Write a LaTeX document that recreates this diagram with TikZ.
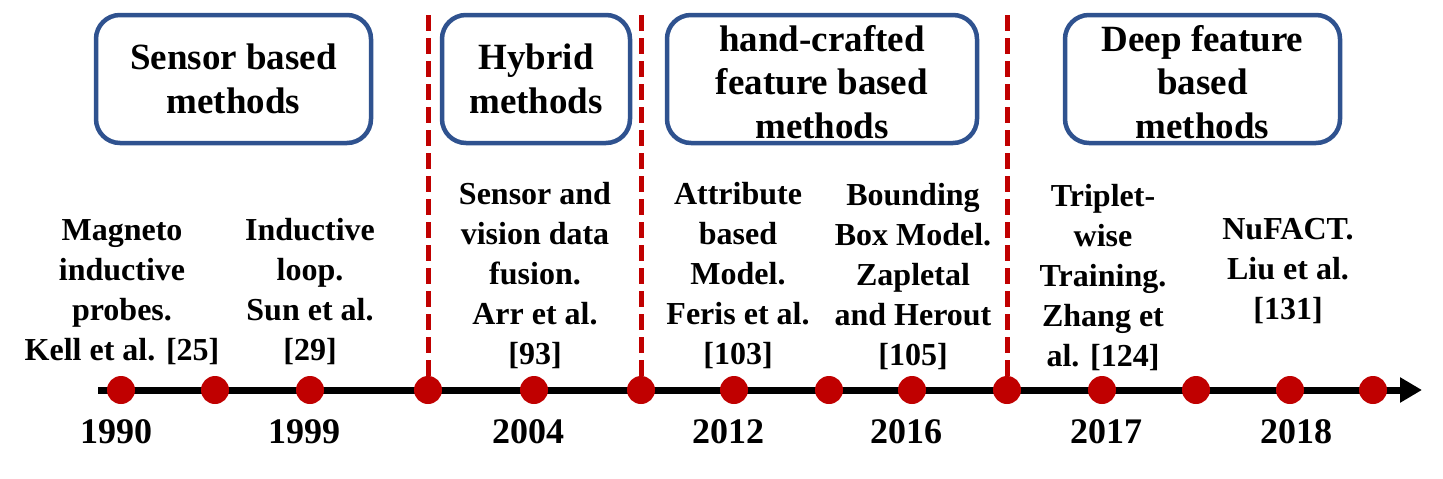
\documentclass[tikz,border=0pt]{standalone}
\usepackage{fontspec}
\setmainfont{Liberation Serif}
\usetikzlibrary{arrows.meta}
\definecolor{boxblue}{RGB}{47,82,143}
\definecolor{dotred}{RGB}{192,0,0}
\begin{document}
\begin{tikzpicture}[x=1pt,y=-1pt,
  catbox/.style={draw=boxblue, line width=4.5pt, rounded corners=24pt, inner sep=0pt, fill=white},
  cattext/.style={align=center, inner sep=0pt, font=\bfseries\fontsize{37}{43.5}\selectfont},
  evlabel/.style={align=center, inner sep=0pt, font=\bfseries\fontsize{32}{40}\selectfont},
  yearlabel/.style={inner sep=0pt, font=\bfseries\fontsize{36}{40}\selectfont},
  tdot/.style={circle, fill=dotred, minimum size=28pt, inner sep=0pt},
  sepline/.style={draw=dotred, line width=5pt, dash pattern=on 16pt off 7pt}]
\useasboundingbox (0,0) rectangle (1443,479);

% category boxes
\node[catbox, minimum width=275pt, minimum height=128pt] (box1) at (233.5,79) {};
\node[cattext] (t1) at (box1.center) {Sensor based\\methods};
\node[catbox, minimum width=188pt, minimum height=128pt] (box2) at (536,79) {};
\node[cattext] (t2) at (box2.center) {Hybrid\\methods};
\node[catbox, minimum width=310pt, minimum height=128pt] (box3) at (822,79) {};
\node[cattext] (t3) at (822,82) {hand-crafted\\feature based\\methods};
\node[catbox, minimum width=275pt, minimum height=128pt] (box4) at (1202.5,79) {};
\node[cattext] (t4) at (1202.5,82) {Deep feature\\based\\methods};

% timeline
\coordinate (tstart) at (98,390);
\coordinate (tend) at (1422,390);
\draw[line width=7pt, -{Triangle[length=22pt,width=24pt]}] (tstart) -- (tend);

% dots
\foreach \i/\x in {1/121,2/215,3/310,4/428,5/534,6/641,7/734,8/829,9/912,10/1007,11/1102,12/1196,13/1290,14/1373}
  \node[tdot] (d\i) at (\x,390) {};

% separators
\coordinate (s1) at (428,15);
\coordinate (s2) at (641,15);
\coordinate (s3) at (1007,15);
\draw[sepline] (s1) -- (d4.center);
\draw[sepline] (s2) -- (d6.center);
\draw[sepline] (s3) -- (d10.center);

% event labels
\node[evlabel] (e1) at (122,292) {Magneto\\inductive\\probes.\\Kell et al. [25]};
\node[evlabel] (e2) at (310,292) {Inductive\\loop.\\Sun et al.\\{}[29]};
\node[evlabel] (e3) at (535,276) {Sensor and\\vision data\\fusion.\\Arr et al.\\{}[93]};
\node[evlabel] (e4) at (738,276) {Attribute\\based\\Model.\\Feris et al.\\{}[103]};
\node[evlabel] (e5) at (913,277) {Bounding\\Box Model.\\Zapletal\\and Herout\\{}[105]};
\node[evlabel] (e6) at (1103,278) {Triplet-\\wise\\Training.\\Zhang et\\al. [124]};
\node[evlabel] (e7) at (1288,271) {NuFACT.\\Liu et al.\\{}[131]};

% years
\node[yearlabel] (y1) at (116,432) {1990};
\node[yearlabel] (y2) at (304,432) {1999};
\node[yearlabel] (y3) at (528,432) {2004};
\node[yearlabel] (y4) at (728,432) {2012};
\node[yearlabel] (y5) at (906,432) {2016};
\node[yearlabel] (y6) at (1106,432) {2017};
\node[yearlabel] (y7) at (1296,432) {2018};
\end{tikzpicture}
\end{document}
